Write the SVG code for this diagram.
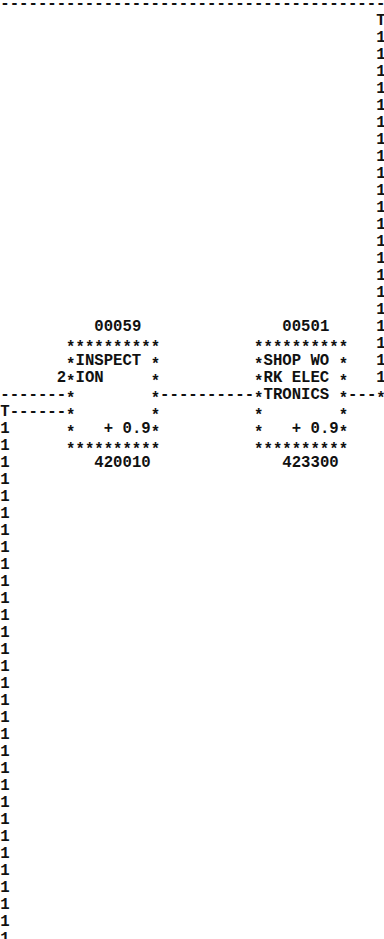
<svg xmlns="http://www.w3.org/2000/svg" width="384" height="939" viewBox="0 0 384 939">
<style>
text{font-family:"Liberation Mono","DejaVu Sans Mono",monospace;font-size:15.67px;font-weight:bold;fill:#111}
</style>
<rect width="384" height="939" fill="#fff"/>
<g id="connectors">
<text x="0.3" y="8.2">-----------------------------------------</text>
<text x="376.3" y="25.2">T</text>
<text x="376.3" y="42.2">1<tspan x="376.3" y="59.2">1</tspan><tspan x="376.3" y="76.2">1</tspan><tspan x="376.3" y="93.2">1</tspan><tspan x="376.3" y="110.2">1</tspan><tspan x="376.3" y="127.2">1</tspan><tspan x="376.3" y="144.2">1</tspan><tspan x="376.3" y="161.2">1</tspan><tspan x="376.3" y="178.2">1</tspan><tspan x="376.3" y="195.2">1</tspan><tspan x="376.3" y="212.2">1</tspan><tspan x="376.3" y="229.2">1</tspan><tspan x="376.3" y="246.2">1</tspan><tspan x="376.3" y="263.2">1</tspan><tspan x="376.3" y="280.2">1</tspan><tspan x="376.3" y="297.2">1</tspan><tspan x="376.3" y="314.2">1</tspan><tspan x="376.3" y="331.2">1</tspan><tspan x="376.3" y="348.2">1</tspan><tspan x="376.3" y="365.2">1</tspan><tspan x="376.3" y="382.2">1</tspan></text>
<text x="348.1" y="399.2">---</text>
<text x="376.3" y="402.9">*</text>
<text x="160.1" y="399.2">----------</text>
<text x="0.3" y="399.2">-------</text>
<text x="0.3" y="416.2">T------</text>
<text x="0.3" y="433.2">1<tspan x="0.3" y="450.2">1</tspan><tspan x="0.3" y="467.2">1</tspan><tspan x="0.3" y="484.2">1</tspan><tspan x="0.3" y="501.2">1</tspan><tspan x="0.3" y="518.2">1</tspan><tspan x="0.3" y="535.2">1</tspan><tspan x="0.3" y="552.2">1</tspan><tspan x="0.3" y="569.2">1</tspan><tspan x="0.3" y="586.2">1</tspan><tspan x="0.3" y="603.2">1</tspan><tspan x="0.3" y="620.2">1</tspan><tspan x="0.3" y="637.2">1</tspan><tspan x="0.3" y="654.2">1</tspan><tspan x="0.3" y="671.2">1</tspan><tspan x="0.3" y="688.2">1</tspan><tspan x="0.3" y="705.2">1</tspan><tspan x="0.3" y="722.2">1</tspan><tspan x="0.3" y="739.2">1</tspan><tspan x="0.3" y="756.2">1</tspan><tspan x="0.3" y="773.2">1</tspan><tspan x="0.3" y="790.2">1</tspan><tspan x="0.3" y="807.2">1</tspan><tspan x="0.3" y="824.2">1</tspan><tspan x="0.3" y="841.2">1</tspan><tspan x="0.3" y="858.2">1</tspan><tspan x="0.3" y="875.2">1</tspan><tspan x="0.3" y="892.2">1</tspan><tspan x="0.3" y="909.2">1</tspan><tspan x="0.3" y="926.2">1</tspan><tspan x="0.3" y="943.2">1</tspan></text>
</g>
<g id="node-420010">
<text x="94.3" y="331.2">00059</text>
<text x="66.1" y="351.9">**********</text>
<text x="66.1" y="368.9">*</text><text x="75.5" y="365.2">INSPECT</text><text x="150.7" y="368.9">*</text>
<text x="56.7" y="382.2">2</text><text x="66.1" y="385.9">*</text><text x="75.5" y="382.2">ION</text><text x="150.7" y="385.9">*</text>
<text x="66.1" y="402.9">*</text><text x="150.7" y="402.9">*</text>
<text x="66.1" y="419.9">*</text><text x="150.7" y="419.9">*</text>
<text x="66.1" y="436.9">*</text><text x="103.7" y="433.2">+</text><text x="122.5" y="433.2">0.9</text><text x="150.7" y="436.9">*</text>
<text x="66.1" y="453.9">**********</text>
<text x="94.3" y="467.2">420010</text>
</g>
<g id="node-423300">
<text x="282.3" y="331.2">00501</text>
<text x="254.1" y="351.9">**********</text>
<text x="254.1" y="368.9">*</text><text x="263.5" y="365.2">SHOP WO</text><text x="338.7" y="368.9">*</text>
<text x="254.1" y="385.9">*</text><text x="263.5" y="382.2">RK ELEC</text><text x="338.7" y="385.9">*</text>
<text x="254.1" y="402.9">*</text><text x="263.5" y="399.2">TRONICS</text><text x="338.7" y="402.9">*</text>
<text x="254.1" y="419.9">*</text><text x="338.7" y="419.9">*</text>
<text x="254.1" y="436.9">*</text><text x="291.7" y="433.2">+</text><text x="310.5" y="433.2">0.9</text><text x="338.7" y="436.9">*</text>
<text x="254.1" y="453.9">**********</text>
<text x="282.3" y="467.2">423300</text>
</g>
</svg>
